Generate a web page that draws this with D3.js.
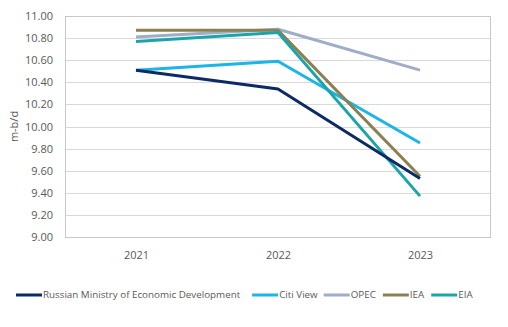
<!DOCTYPE html>
<html>
<head>
<meta charset="utf-8">
<script src="https://cdn.jsdelivr.net/npm/d3@7"></script>
<style>
  body { margin: 0; background: #fff; }
  svg text { font-family: "Open Sans", sans-serif; fill: #595959; }
</style>
</head>
<body>
<svg id="chart"></svg>
<script>
var years = ["2021", "2022", "2023"];
var seriesNames = ["Russian Ministry of Economic Development", "Citi View", "OPEC", "IEA", "EIA"];
var russia = [10.51, 10.34, 9.53];
var citi = [10.51, 10.59, 9.85];
var opec = [10.81, 10.88, 10.51];
var iea = [10.87, 10.87, 9.55];
var eia = [10.77, 10.85, 9.37];
var colors = ["#0b2a66", "#1bb6e6", "#9fadc8", "#8a8052", "#1ba5ab"];
var yTicks = [9.0, 9.2, 9.4, 9.6, 9.8, 10.0, 10.2, 10.4, 10.6, 10.8, 11.0];

var width = 508, height = 327;
var margin = {top: 16, right: 17, bottom: 90, left: 65};

var svg = d3.select("#chart")
    .attr("width", width)
    .attr("height", height);

var x = d3.scalePoint()
    .domain(years)
    .range([margin.left, width - margin.right])
    .padding(0.5);

var y = d3.scaleLinear()
    .domain([9, 11])
    .range([height - margin.bottom, margin.top]);

// horizontal gridlines
svg.append("g").selectAll("line")
    .data(yTicks)
    .enter().append("line")
    .attr("x1", margin.left)
    .attr("x2", width - margin.right)
    .attr("y1", function(d) { return Math.round(y(d)) + 0.5; })
    .attr("y2", function(d) { return Math.round(y(d)) + 0.5; })
    .style("stroke", "#d9d9d9")
    .style("stroke-width", 1);

// plot frame
svg.append("rect")
    .attr("x", margin.left + 0.5)
    .attr("y", margin.top + 0.5)
    .attr("width", width - margin.left - margin.right - 1)
    .attr("height", height - margin.top - margin.bottom)
    .style("fill", "none")
    .style("stroke", "#c8c8c8");

var yAxis = svg.append("g")
    .attr("transform", "translate(" + margin.left + ",0)")
    .call(d3.axisLeft(y).tickValues(yTicks).tickFormat(d3.format(".2f")).tickSize(0).tickPadding(12));
yAxis.select(".domain").remove();
yAxis.selectAll("text").style("font-size", "11px");

var xAxis = svg.append("g")
    .attr("transform", "translate(0," + (height - margin.bottom) + ")")
    .call(d3.axisBottom(x).tickSize(0).tickPadding(14));
xAxis.select(".domain").remove();
xAxis.selectAll("text").style("font-size", "11px");

svg.append("text")
    .attr("transform", "translate(18," + ((margin.top + height - margin.bottom) / 2) + ") rotate(-90)")
    .attr("text-anchor", "middle")
    .style("font-size", "11px")
    .text("m-b/d");

var allSeries = [russia, citi, opec, iea, eia];
var line = d3.line()
    .x(function(d, i) { return x(years[i]); })
    .y(function(d) { return y(d); });

// drawn back to front so the Russian line ends up on top of the others
var order = [2, 1, 3, 4, 0];
svg.append("g").selectAll("path")
    .data(order)
    .enter().append("path")
    .attr("d", function(k) { return line(allSeries[k]); })
    .style("fill", "none")
    .style("stroke", function(k) { return colors[k]; })
    .style("stroke-width", 3)
    .style("stroke-linejoin", "round");

// legend: swatch + label, each entry placed after the previous label
var legendGaps = [16, 12, 6, 7, 7];
var legend = svg.append("g");
var cursor = 0;
seriesNames.forEach(function(name, i) {
    cursor += legendGaps[i];
    var item = legend.append("g").attr("transform", "translate(" + cursor + ",295)");
    item.append("line")
        .attr("x1", 0).attr("x2", 26)
        .style("stroke", colors[i])
        .style("stroke-width", 3);
    var label = item.append("text")
        .attr("x", 27)
        .attr("dy", "0.35em")
        .style("font-size", "9.8px")
        .text(name);
    cursor += 27 + label.node().getComputedTextLength();
});
</script>
</body>
</html>
